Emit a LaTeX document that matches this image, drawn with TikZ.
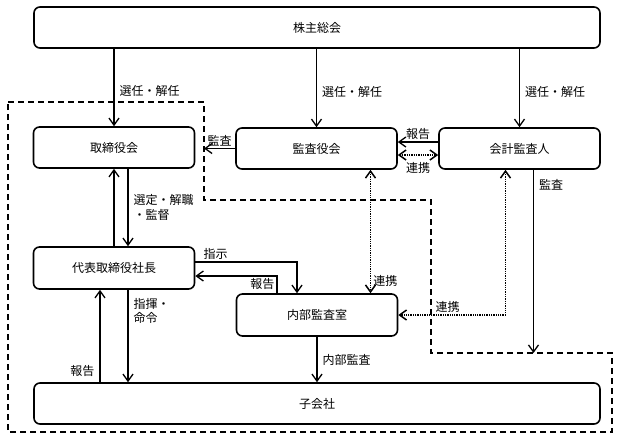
\documentclass[tikz,border=0pt]{standalone}
\usepackage{fontspec}
\setmainfont{Noto Sans CJK JP}
\usetikzlibrary{arrows.meta, positioning}

\begin{document}
\begin{tikzpicture}[x=1pt, y=-1pt,
  every node/.style={font=\fontsize{12}{14.5}\selectfont},
  box/.style={draw, line width=1.6pt, rounded corners=6pt, minimum height=41pt,
              minimum width=161pt, inner sep=0pt},
  lbl/.style={inner sep=2pt, align=left},
  arr/.style={line width=1.3pt, -{Straight Barb[length=7pt, width=10pt]}},
  dotarr/.style={line width=1.5pt, dash pattern=on 1.3pt off 1pt,
                 {Straight Barb[length=7pt, width=10pt]}-{Straight Barb[length=7pt, width=10pt]}},
  group/.style={line width=1.6pt, dash pattern=on 6pt off 4pt}]
  \useasboundingbox (0,0) rectangle (619,440);

  % boxes
  \node[box, minimum width=566pt] (smh) at (317,27.5) {株主総会};
  \node[box] (board) at (114,147.5) {取締役会};
  \node[box] (kansa) at (316.5,148.5) {監査役会};
  \node[box] (auditor) at (519.5,148.5) {会計監査人};
  \node[box, minimum height=42pt] (ceo) at (114,268) {代表取締役社長};
  \node[box, minimum height=42pt] (internal) at (317,315) {内部監査室};
  \node[box, minimum width=566pt] (sub) at (317,403.5) {子会社};

  % company group
  \coordinate (gA) at (204,102);
  \coordinate (gB) at (431,353);
  \draw[group] (8,102) -- (gA) -- (204,200) -- (431,200) -- (gB)
    -- (612,353) -- (612,432) -- (8,432) -- cycle;

  % connectors
  \draw[arr] (board.north |- smh.south) -- node[lbl, right, pos=0.55, xshift=3pt]{選任・解任} (board.north);
  \draw[arr] (kansa.north |- smh.south) -- node[lbl, right, pos=0.55, xshift=3pt]{選任・解任} (kansa.north);
  \draw[arr] (auditor.north |- smh.south) -- node[lbl, right, pos=0.55, xshift=3pt]{選任・解任} (auditor.north);
  \draw[arr] (kansa.west) -- node[lbl, above]{監査} (kansa.west -| gA);
  \draw[arr] ([yshift=6.5pt]auditor.west) -- node[lbl, above]{報告} ([yshift=6.5pt]kansa.east);
  \draw[dotarr] ([yshift=-6.5pt]kansa.east) -- node[lbl, below, yshift=-5pt]{連携} ([yshift=-6.5pt]auditor.west);
  \draw[arr] ([xshift=14pt]auditor.south) -- node[lbl, right, pos=0.08, xshift=3pt]{監査} ([xshift=14pt]auditor.south |- gB);
  \draw[arr] (ceo.north) -- (board.south);
  \draw[arr] ([xshift=14pt]board.south) -- node[lbl, right, xshift=3pt]{選定・解職\\・監督} ([xshift=14pt]ceo.north);
  \draw[arr] ([yshift=6pt]ceo.east) -| node[lbl, above, pos=0.1]{指示} ([xshift=-20pt]internal.north);
  \draw[arr] ([xshift=-40pt]internal.north) |- node[lbl, below left, pos=0.5]{報告} ([yshift=-8pt]ceo.east);
  \draw[dotarr] ([xshift=54pt]kansa.south) -- node[lbl, right, pos=0.9]{連携} ([xshift=54pt]kansa.south |- internal.north);
  \draw[dotarr] ([xshift=-14pt]auditor.south) |- node[lbl, above, pos=0.77]{連携} (internal.east);
  \draw[arr] (internal.south) -- node[lbl, right, xshift=3pt]{内部監査} (internal.south |- sub.north);
  \draw[arr] ([xshift=14pt]ceo.south) -- node[lbl, right, pos=0.23, xshift=3pt]{指揮・\\命令} ([xshift=14pt]ceo.south |- sub.north);
  \draw[arr] ([xshift=-14pt]ceo.south |- sub.north) -- node[lbl, left, pos=0.12, xshift=-3pt]{報告} ([xshift=-14pt]ceo.south);
\end{tikzpicture}
\end{document}
